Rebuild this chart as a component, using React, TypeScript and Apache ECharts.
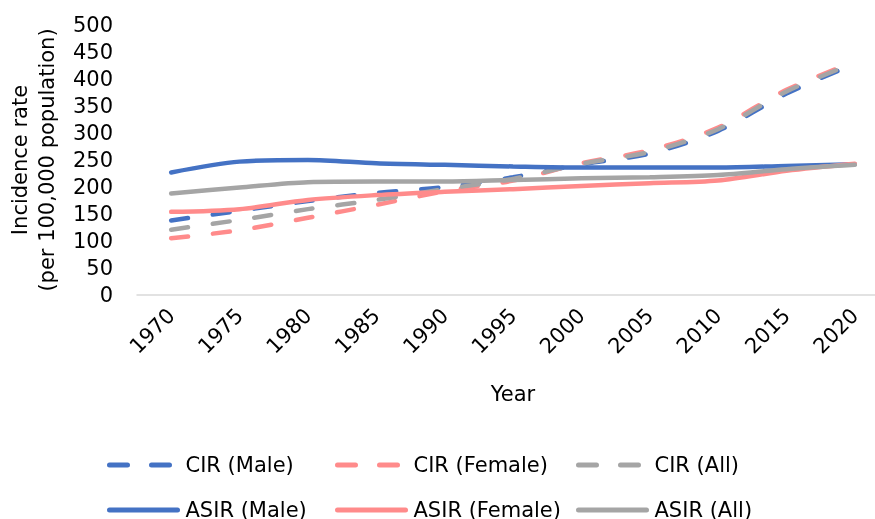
import React, { useEffect, useRef } from "react";
import * as echarts from "echarts";

const years = ["1970", "1975", "1980", "1985", "1990", "1995", "2000", "2005", "2010", "2015", "2020"];
const cirMale = [138, 156, 174, 189, 200, 218, 242, 262, 304, 373, 428];
const cirFemale = [105, 120, 143, 167, 192, 212, 244, 268, 310, 380, 432];
const cirAll = [121, 139, 159, 176, 196, 215, 243, 265, 307, 377, 430];
const asirMale = [227, 247, 250, 244, 241, 238, 236, 236, 236, 239, 242];
const asirFemale = [154, 159, 176, 185, 191, 196, 202, 207, 212, 230, 243];
const asirAll = [188, 199, 209, 210, 210, 213, 216, 218, 222, 233, 241];

const BLUE = "#4472C4";
const PINK = "#FF8B8B";
const GRAY = "#A5A5A5";
const FONT = "DejaVu Sans";
const FS = 21;

export default function App() {
  const ref = useRef<HTMLDivElement>(null);
  useEffect(() => {
    if (!ref.current) return;
    const chart = echarts.init(ref.current, undefined, { renderer: "svg" });
    const dashed = (name: string, data: number[], color: string) => ({
      name,
      type: "line",
      data,
      smooth: 0.3,
      symbol: "none",
      color,
      lineStyle: { color, width: 4.5, type: [17, 25], cap: "round" },
    });
    const solid = (name: string, data: number[], color: string) => ({
      name,
      type: "line",
      data,
      smooth: 0.3,
      symbol: "none",
      color,
      lineStyle: { color, width: 4.5, type: "solid", cap: "round" },
    });
    const legendItem = (name: string, left: number, top: number, isDashed: boolean) => ({
      data: [name],
      left,
      top,
      padding: 0,
      itemWidth: 68,
      itemHeight: 14,
      selectedMode: false,
      itemStyle: { opacity: 0 },
      lineStyle: isDashed ? { width: 5, type: [18, 24], cap: "round" } : { width: 5, type: "solid", cap: "round" },
      textStyle: { fontFamily: FONT, fontSize: FS, color: "#000", padding: [0, 0, 0, 3], lineHeight: 24 },
    });
    chart.setOption({
      animation: false,
      grid: { left: 137, right: -14, top: 25, bottom: 224, containLabel: false, outerBoundsMode: "none" },
      xAxis: {
        type: "category",
        data: years,
        boundaryGap: true,
        name: "Year",
        nameLocation: "middle",
        nameGap: 88,
        nameTextStyle: { fontFamily: FONT, fontSize: FS, color: "#000" },
        axisLine: { lineStyle: { color: "#D9D9D9", width: 1.5 } },
        axisTick: { show: false },
        axisLabel: { rotate: 45, margin: 17, fontFamily: FONT, fontSize: FS, color: "#000" },
      },
      yAxis: {
        type: "value",
        min: 0,
        max: 500,
        interval: 50,
        name: "Incidence rate\n(per 100,000 population)",
        nameLocation: "middle",
        nameGap: 77,
        nameRotate: 90,
        nameTextStyle: { fontFamily: FONT, fontSize: FS, color: "#000", lineHeight: 27 },
        axisLine: { show: false },
        axisTick: { show: false },
        splitLine: { show: false },
        axisLabel: { margin: 24, fontFamily: FONT, fontSize: FS, color: "#000" },
      },
      legend: [
        legendItem("CIR (Male)", 107, 453, true),
        legendItem("CIR (Female)", 335, 453, true),
        legendItem("CIR (All)", 576, 453, true),
        legendItem("ASIR (Male)", 107, 498, false),
        legendItem("ASIR (Female)", 335, 498, false),
        legendItem("ASIR (All)", 576, 498, false),
      ],
      series: [
        dashed("CIR (Male)", cirMale, BLUE),
        dashed("CIR (Female)", cirFemale, PINK),
        dashed("CIR (All)", cirAll, GRAY),
        solid("ASIR (Male)", asirMale, BLUE),
        solid("ASIR (Female)", asirFemale, PINK),
        solid("ASIR (All)", asirAll, GRAY),
      ],
    });
    return () => chart.dispose();
  }, []);
  return <div ref={ref} style={{ position: "fixed", left: 0, top: 0, width: 875, height: 519 }} />;
}
